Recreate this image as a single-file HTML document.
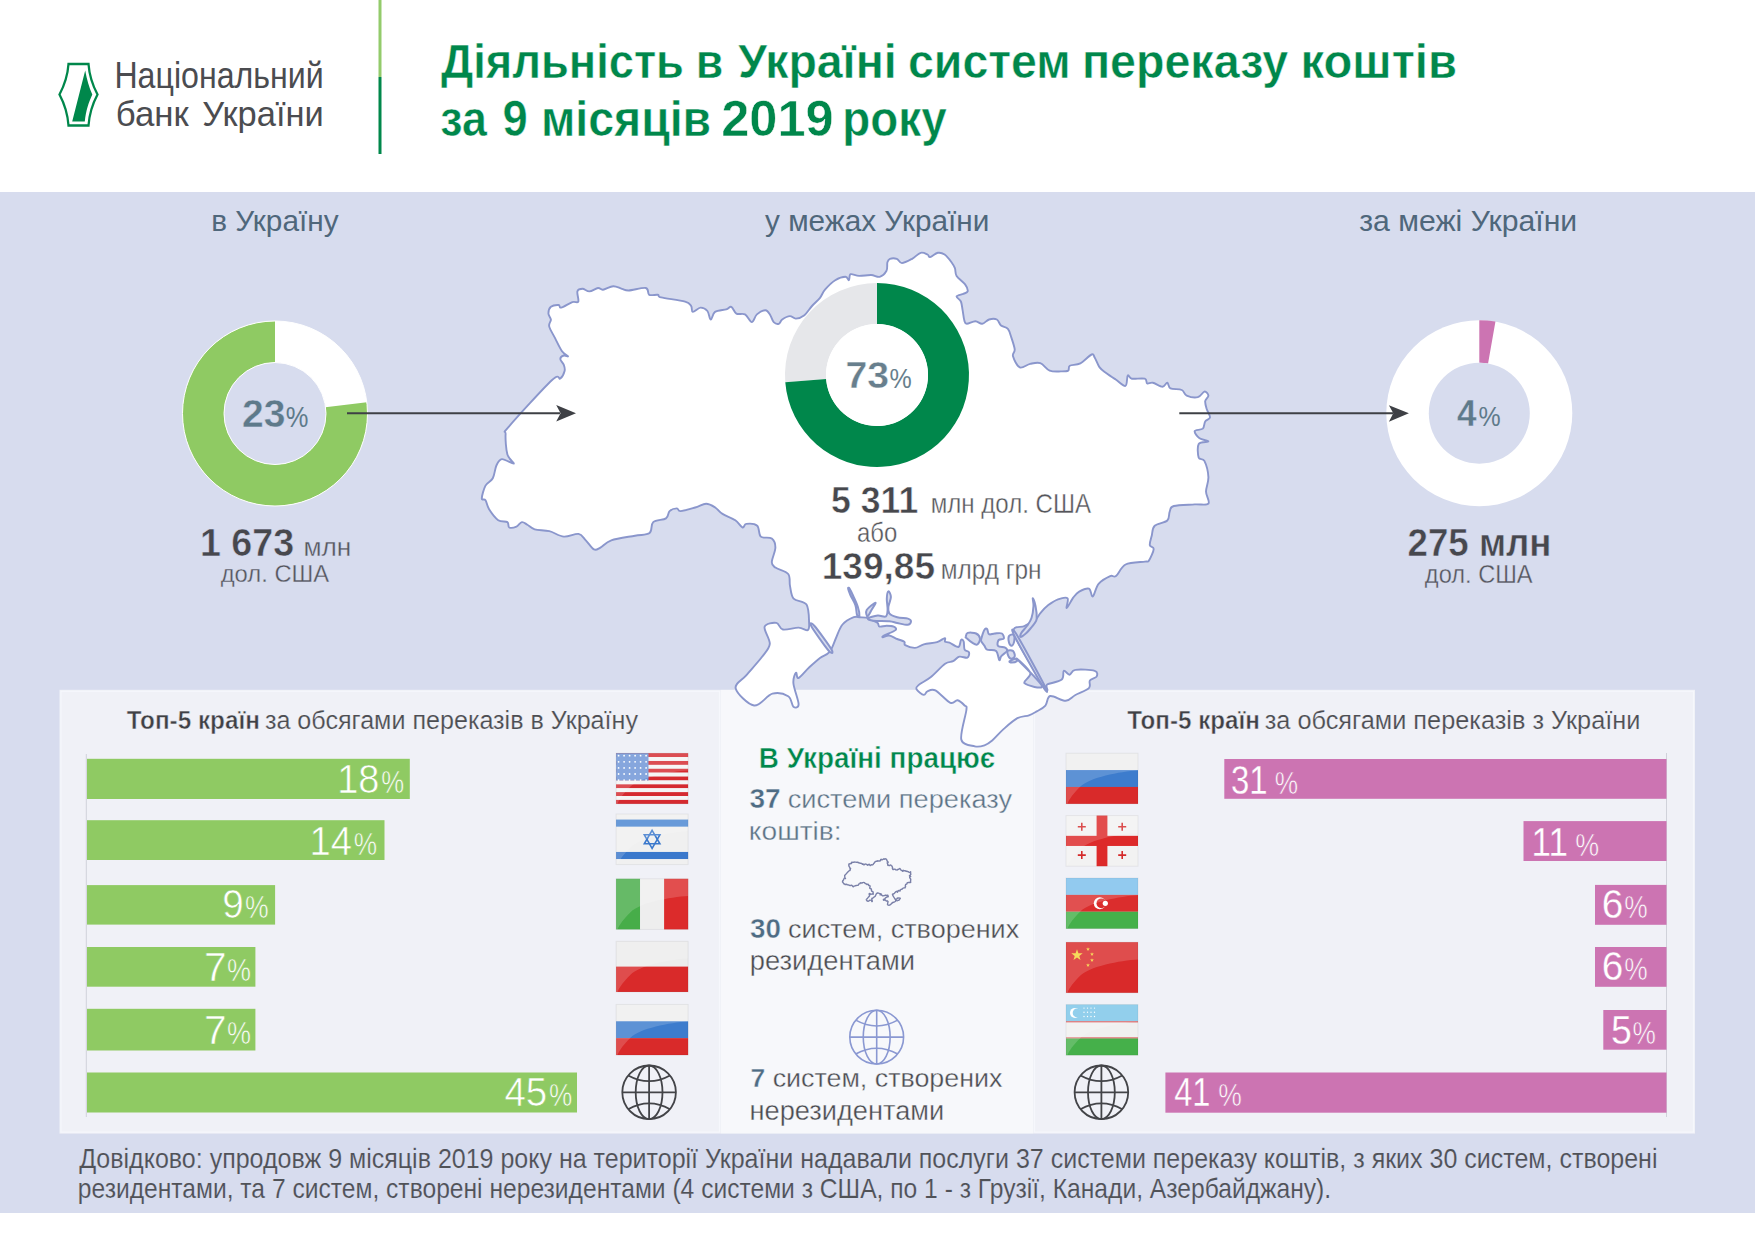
<!DOCTYPE html>
<html><head><meta charset="utf-8"><style>
html,body{margin:0;padding:0;background:#fff;}
svg{display:block;font-family:"Liberation Sans",sans-serif;}
</style></head><body>
<svg width="1755" height="1241" viewBox="0 0 1755 1241">
<rect x="0" y="0" width="1755" height="1241" fill="#ffffff"/>
<path d="M68.5,64 L88.5,64 C89.5,78 93,86 97.5,94.5 C93,103 89.5,111 88.5,125.5 L68.5,125.5 C67.5,111 64,103 59.5,94.5 C64,86 67.5,78 68.5,64 Z" fill="none" stroke="#00874b" stroke-width="2.3"/>
<path d="M85.2,70.5 C87,80 89,87 92.3,94.5 C88.5,103 86,110 84.8,121.5 L72.2,121.5 Z" fill="#00874b"/>
<rect x="378.5" y="0" width="3" height="77" fill="#93cb6b"/>
<rect x="378.5" y="77" width="3" height="77" fill="#00874b"/>
<text x="114.38" y="88.30" font-size="36.77" font-weight="normal" fill="#4b4c50" textLength="209.36" lengthAdjust="spacingAndGlyphs">Національний</text>
<text x="115.84" y="125.90" font-size="35.61" font-weight="normal" fill="#4b4c50" textLength="72.96" lengthAdjust="spacingAndGlyphs">банк</text>
<text x="202.23" y="125.90" font-size="35.61" font-weight="normal" fill="#4b4c50" textLength="121.47" lengthAdjust="spacingAndGlyphs">України</text>
<text x="441.04" y="78.30" font-size="48.69" font-weight="bold" fill="#00874b" textLength="242.88" lengthAdjust="spacingAndGlyphs" stroke="#ffffff" stroke-width="0.5">Діяльність</text>
<text x="695.82" y="78.30" font-size="48.69" font-weight="bold" fill="#00874b" textLength="27.49" lengthAdjust="spacingAndGlyphs" stroke="#ffffff" stroke-width="0.5">в</text>
<text x="738.00" y="78.30" font-size="48.69" font-weight="bold" fill="#00874b" textLength="158.66" lengthAdjust="spacingAndGlyphs" stroke="#ffffff" stroke-width="0.5">Україні</text>
<text x="907.93" y="78.30" font-size="48.69" font-weight="bold" fill="#00874b" textLength="162.77" lengthAdjust="spacingAndGlyphs" stroke="#ffffff" stroke-width="0.5">систем</text>
<text x="1081.89" y="78.30" font-size="48.69" font-weight="bold" fill="#00874b" textLength="206.22" lengthAdjust="spacingAndGlyphs" stroke="#ffffff" stroke-width="0.5">переказу</text>
<text x="1300.45" y="78.30" font-size="48.69" font-weight="bold" fill="#00874b" textLength="156.54" lengthAdjust="spacingAndGlyphs" stroke="#ffffff" stroke-width="0.5">коштів</text>
<text x="440.37" y="136.00" font-size="49.42" font-weight="bold" fill="#00874b" textLength="46.56" lengthAdjust="spacingAndGlyphs" stroke="#ffffff" stroke-width="0.5">за</text>
<text x="502.40" y="136.00" font-size="49.42" font-weight="bold" fill="#00874b" textLength="25.24" lengthAdjust="spacingAndGlyphs" stroke="#ffffff" stroke-width="0.5">9</text>
<text x="540.91" y="136.00" font-size="49.42" font-weight="bold" fill="#00874b" textLength="170.27" lengthAdjust="spacingAndGlyphs" stroke="#ffffff" stroke-width="0.5">місяців</text>
<text x="721.21" y="136.00" font-size="49.42" font-weight="bold" fill="#00874b" textLength="112.40" lengthAdjust="spacingAndGlyphs" stroke="#ffffff" stroke-width="0.5">2019</text>
<text x="842.29" y="136.00" font-size="49.42" font-weight="bold" fill="#00874b" textLength="104.47" lengthAdjust="spacingAndGlyphs" stroke="#ffffff" stroke-width="0.5">року</text>
<rect x="0" y="192" width="1755" height="1021" fill="#d7dcee"/>
<text x="211.20" y="231.30" font-size="29.80" font-weight="normal" fill="#4f677b" textLength="127.36" lengthAdjust="spacingAndGlyphs">в Україну</text>
<text x="765.00" y="231.30" font-size="29.80" font-weight="normal" fill="#4f677b" textLength="224.33" lengthAdjust="spacingAndGlyphs">у межах України</text>
<text x="1359.24" y="231.30" font-size="29.80" font-weight="normal" fill="#4f677b" textLength="217.92" lengthAdjust="spacingAndGlyphs">за межі України</text>
<rect x="59.5" y="689.8" width="661.5" height="443.8" fill="#f0f1f7"/>
<rect x="61" y="691.3" width="658.5" height="440.8" fill="none" stroke="#f6f7fc" stroke-width="1.2"/>
<rect x="721" y="689.8" width="312" height="443.8" fill="#f7f8fb"/>
<rect x="1033" y="689.8" width="662" height="443.8" fill="#f0f1f7"/>
<rect x="1034.5" y="691.3" width="659" height="440.8" fill="none" stroke="#f6f7fc" stroke-width="1.2"/>
<path d="M548.4,313.6 C548.4,311.5 549.2,308.2 550.9,306.8 C552.6,305.4 556.9,304.9 558.6,305.0 C560.3,305.1 558.9,308.1 561.2,307.6 C563.5,307.1 569.4,303.1 572.3,302.1 C575.1,301.1 577.4,303.4 578.3,301.6 C579.1,299.8 576.7,293.5 577.4,291.4 C578.1,289.3 580.6,288.8 582.6,288.8 C584.6,288.8 586.8,291.5 589.4,291.4 C592.0,291.3 595.7,288.3 598.0,288.0 C600.3,287.7 600.5,290.0 603.0,289.7 C605.5,289.4 610.1,286.3 613.3,286.2 C616.4,286.1 619.3,288.1 621.9,288.8 C624.5,289.5 624.7,290.6 628.7,290.5 C632.7,290.4 642.4,287.3 645.8,288.0 C649.2,288.7 647.2,293.7 649.2,294.8 C651.2,295.9 655.8,294.4 657.8,294.8 C659.8,295.2 656.7,296.3 661.2,297.4 C665.8,298.5 680.1,300.2 685.1,301.6 C690.1,303.0 689.8,304.2 691.1,305.9 C692.4,307.6 691.2,311.6 692.8,311.9 C694.4,312.2 698.1,307.8 700.5,307.6 C702.9,307.5 705.7,309.0 707.4,311.0 C709.1,313.0 709.5,319.5 710.8,319.6 C712.1,319.8 712.4,313.6 715.0,311.9 C717.6,310.2 723.5,310.1 726.2,309.3 C728.9,308.5 729.6,306.1 731.3,306.8 C733.0,307.5 734.1,312.3 736.4,313.6 C738.7,314.9 742.4,313.0 745.0,314.4 C747.6,315.8 749.8,322.1 751.8,322.1 C753.8,322.1 754.6,316.4 756.9,314.4 C759.2,312.4 763.3,310.1 765.5,310.2 C767.7,310.3 768.9,313.2 770.3,315.2 C771.7,317.2 772.3,320.7 773.7,322.1 C775.1,323.5 777.4,324.2 778.8,323.8 C780.2,323.4 780.4,320.8 782.2,319.5 C784.1,318.2 787.6,316.2 789.9,316.1 C792.2,316.0 793.5,318.8 795.9,318.6 C798.3,318.5 801.7,317.3 804.4,315.2 C807.1,313.1 809.4,308.9 812.0,306.0 C814.6,303.1 817.6,300.8 819.8,298.1 C822.0,295.4 822.4,292.6 825.0,289.6 C827.6,286.6 831.8,282.3 835.2,280.2 C838.6,278.1 843.2,276.8 845.5,276.8 C847.8,276.8 848.0,280.6 848.9,280.2 C849.8,279.8 848.9,274.9 850.6,274.2 C852.3,273.5 855.7,275.8 859.1,275.9 C862.5,276.0 867.7,274.9 871.1,275.0 C874.5,275.1 877.1,277.5 879.7,276.8 C882.3,276.1 885.2,273.2 886.5,270.8 C887.8,268.4 886.8,264.2 887.4,262.2 C888.0,260.2 888.3,259.4 889.9,258.8 C891.5,258.2 894.8,258.1 896.8,258.8 C898.8,259.5 899.3,263.1 901.9,263.1 C904.5,263.1 909.0,260.5 912.1,258.8 C915.2,257.1 918.1,253.5 920.7,252.8 C923.3,252.1 925.9,253.8 927.5,254.5 C929.1,255.2 928.4,257.4 930.1,257.1 C931.8,256.8 935.4,253.2 937.8,252.8 C940.2,252.4 942.3,252.9 944.6,254.5 C946.9,256.1 949.8,259.9 951.5,262.2 C953.2,264.5 954.0,265.9 954.9,268.2 C955.8,270.5 954.9,273.2 956.6,275.9 C958.3,278.6 963.2,281.8 965.1,284.4 C967.0,287.0 968.0,289.7 967.7,291.3 C967.4,292.9 965.2,293.0 963.4,293.8 C961.5,294.6 957.0,295.1 956.6,296.4 C956.2,297.7 959.9,299.2 960.9,301.5 C961.9,303.8 962.0,307.0 962.6,310.1 C963.2,313.2 963.6,318.0 964.3,320.3 C965.0,322.6 964.9,323.7 966.8,323.8 C968.6,323.9 972.8,321.2 975.4,321.2 C978.0,321.2 979.9,324.1 982.2,323.8 C984.5,323.5 986.7,320.2 989.1,319.5 C991.5,318.8 994.8,318.5 996.8,319.5 C998.8,320.5 999.1,323.9 1001.0,325.5 C1002.9,327.1 1006.2,326.9 1007.9,328.9 C1009.6,330.9 1010.2,334.0 1011.3,337.4 C1012.4,340.8 1014.4,346.3 1014.7,349.4 C1015.0,352.5 1012.1,353.2 1013.0,356.2 C1013.9,359.2 1016.9,366.1 1019.8,367.4 C1022.6,368.7 1026.7,364.6 1030.1,363.9 C1033.5,363.2 1037.0,362.0 1040.3,363.1 C1043.6,364.2 1046.2,369.2 1049.7,370.6 C1053.2,372.0 1057.9,371.4 1061.0,371.4 C1064.1,371.4 1066.7,371.5 1068.2,370.6 C1069.7,369.7 1067.8,367.0 1069.8,365.8 C1071.8,364.6 1076.7,365.3 1080.3,363.4 C1083.9,361.5 1089.2,355.4 1091.6,354.5 C1094.0,353.6 1093.5,355.6 1094.8,357.7 C1096.1,359.8 1097.7,364.8 1099.6,367.4 C1101.5,369.9 1103.4,371.0 1106.1,373.0 C1108.8,375.0 1112.5,377.4 1115.7,379.5 C1118.9,381.6 1123.4,386.6 1125.4,385.9 C1127.4,385.2 1126.7,376.7 1127.8,375.5 C1128.9,374.3 1129.1,378.2 1131.9,378.7 C1134.7,379.2 1142.2,377.9 1144.8,378.7 C1147.3,379.5 1145.9,382.8 1147.2,383.5 C1148.5,384.2 1150.2,382.2 1152.8,382.7 C1155.3,383.2 1160.1,386.7 1162.5,386.7 C1164.9,386.7 1166.0,382.4 1167.3,382.7 C1168.6,383.0 1168.1,387.1 1170.5,388.3 C1172.9,389.5 1179.1,388.8 1181.8,390.0 C1184.5,391.2 1184.0,394.4 1186.7,395.6 C1189.4,396.8 1195.0,397.9 1197.9,397.2 C1200.9,396.5 1202.7,391.9 1204.4,391.6 C1206.2,391.3 1208.3,394.0 1208.4,395.6 C1208.5,397.2 1205.5,398.9 1205.2,401.2 C1204.9,403.5 1206.0,406.6 1206.8,409.3 C1207.6,412.0 1210.3,415.4 1210.0,417.4 C1209.7,419.4 1206.4,419.5 1205.2,421.4 C1204.0,423.3 1204.5,427.0 1202.8,428.6 C1201.0,430.2 1195.2,429.5 1194.7,431.1 C1194.2,432.7 1197.2,436.6 1199.5,438.3 C1201.8,440.0 1208.5,440.6 1208.4,441.5 C1208.3,442.4 1200.3,441.3 1198.7,444.0 C1197.1,446.7 1197.8,454.8 1198.7,457.6 C1199.7,460.4 1202.8,457.7 1204.4,460.9 C1206.0,464.1 1208.1,471.9 1208.4,477.0 C1208.7,482.1 1206.0,487.1 1206.0,491.5 C1206.0,495.9 1210.3,501.5 1208.4,503.6 C1206.5,505.8 1200.5,504.0 1194.7,504.4 C1188.9,504.8 1178.0,504.8 1173.8,506.0 C1169.6,507.2 1170.8,509.2 1169.7,511.6 C1168.6,514.0 1169.8,518.1 1167.3,520.5 C1164.8,522.9 1157.3,523.3 1154.7,525.8 C1152.1,528.3 1152.6,532.3 1151.8,535.5 C1151.0,538.7 1149.5,542.9 1149.8,545.1 C1150.1,547.4 1153.8,546.4 1153.7,549.0 C1153.6,551.6 1150.4,558.5 1148.9,560.6 C1147.5,562.7 1148.9,561.0 1145.0,561.6 C1141.1,562.2 1130.4,562.1 1125.6,564.5 C1120.8,566.9 1118.6,574.2 1116.0,576.1 C1113.4,578.0 1113.1,574.8 1110.2,576.1 C1107.3,577.4 1101.5,580.4 1098.6,583.8 C1095.7,587.2 1094.4,595.6 1092.8,596.4 C1091.2,597.2 1091.2,589.5 1088.9,588.7 C1086.6,587.9 1081.8,590.2 1079.2,591.6 C1076.6,593.0 1075.5,594.7 1073.4,597.4 C1071.3,600.1 1067.7,607.9 1066.7,608.0 C1065.7,608.1 1069.0,599.8 1067.6,598.3 C1066.1,596.8 1061.2,598.2 1058.0,599.3 C1054.8,600.4 1051.2,602.9 1048.3,605.1 C1045.4,607.4 1042.8,610.2 1040.6,612.8 C1038.3,615.4 1037.5,618.4 1034.8,620.6 C1032.1,622.8 1027.9,623.7 1024.5,626.0 C1021.1,628.3 1010.8,624.1 1014.2,634.2 C1017.6,644.3 1039.6,678.4 1045.1,686.8 C1050.6,695.2 1044.5,685.6 1047.3,684.4 C1050.1,683.2 1059.0,681.8 1061.8,679.5 C1064.5,677.2 1062.5,671.6 1063.8,670.8 C1065.1,670.0 1067.7,674.9 1069.6,674.7 C1071.5,674.6 1071.2,670.5 1075.4,669.9 C1079.6,669.2 1091.2,669.7 1094.7,670.8 C1098.2,671.9 1097.4,675.0 1096.6,676.6 C1095.8,678.2 1091.2,678.6 1089.9,680.5 C1088.6,682.4 1091.3,685.8 1088.9,688.2 C1086.5,690.6 1079.3,692.9 1075.4,695.0 C1071.5,697.1 1069.9,700.6 1065.7,700.8 C1061.5,701.0 1053.6,695.2 1050.2,696.0 C1046.8,696.8 1047.7,703.0 1045.4,705.6 C1043.2,708.2 1039.4,709.8 1036.7,711.4 C1034.0,713.0 1032.2,714.2 1029.0,715.3 C1025.8,716.4 1021.6,715.9 1017.4,718.2 C1013.2,720.5 1008.0,725.2 1003.8,728.9 C999.6,732.6 995.4,737.8 992.2,740.5 C989.0,743.2 987.4,744.3 984.5,745.3 C981.6,746.3 978.7,747.3 974.8,746.3 C970.9,745.3 962.7,745.5 961.3,739.5 C959.9,733.5 965.8,715.7 966.4,710.0 C967.0,704.3 966.1,707.1 964.6,705.5 C963.1,703.9 959.9,700.7 957.5,700.2 C955.1,699.8 954.1,704.4 950.4,702.8 C946.7,701.2 939.2,692.3 935.4,690.4 C931.6,688.5 929.3,690.5 927.4,691.3 C925.5,692.0 925.6,695.2 923.8,694.9 C922.0,694.6 917.6,691.1 916.7,689.5 C915.8,687.9 916.1,687.2 918.5,685.1 C920.9,683.0 926.5,680.7 930.9,677.1 C935.3,673.5 941.4,666.4 945.1,663.8 C948.8,661.1 950.7,662.4 953.1,661.2 C955.5,660.0 956.9,657.3 959.3,656.7 C961.7,656.1 965.7,658.3 967.3,657.6 C968.9,656.9 969.5,653.6 969.0,652.3 C968.5,651.0 965.5,651.4 964.6,649.6 C963.7,647.8 964.3,643.3 963.7,641.7 C963.1,640.1 962.0,639.0 961.1,639.9 C960.2,640.8 960.3,646.5 958.4,647.0 C956.5,647.5 951.7,643.5 949.5,642.6 C947.3,641.7 945.9,642.5 945.1,641.7 C944.3,641.0 946.0,638.0 944.7,638.1 C943.4,638.2 940.6,641.1 937.1,642.1 C933.6,643.1 927.5,643.3 923.8,644.3 C920.1,645.3 918.1,647.8 915.0,647.9 C911.9,648.0 907.0,646.2 905.2,645.2 C903.4,644.2 905.6,642.7 904.3,641.7 C903.0,640.7 899.7,640.0 897.2,639.0 C894.7,638.0 891.7,635.8 889.3,635.5 C886.9,635.2 883.9,637.2 883.0,637.2 C882.1,637.2 881.8,636.7 883.9,635.5 C886.0,634.3 893.9,631.6 895.5,630.1 C897.1,628.6 895.2,627.3 893.7,626.6 C892.2,625.9 889.0,625.7 886.6,625.7 C884.2,625.7 881.0,627.1 879.5,626.6 C878.0,626.1 878.9,624.0 877.7,623.0 C876.5,622.0 874.3,621.3 872.4,620.4 C870.5,619.5 868.3,618.2 866.2,617.7 C864.1,617.2 862.1,617.4 860.0,617.3 C857.9,617.2 856.7,616.0 853.8,617.2 C850.9,618.4 845.5,621.0 842.5,624.5 C839.5,628.0 838.1,633.4 836.0,638.0 C833.9,642.6 832.3,648.6 829.6,651.9 C826.9,655.2 823.4,655.4 820.0,658.0 C816.6,660.6 812.7,664.2 809.1,667.5 C805.5,670.8 800.8,677.1 798.6,678.0 C796.4,678.9 796.9,671.8 796.0,672.7 C795.1,673.6 793.0,678.0 793.4,683.2 C793.8,688.5 798.6,700.3 798.6,704.2 C798.6,708.1 795.1,708.1 793.4,706.8 C791.7,705.5 791.7,698.5 788.2,696.3 C784.7,694.1 778.1,692.2 772.4,693.7 C766.7,695.2 760.2,706.4 754.1,705.5 C748.0,704.6 737.0,693.4 735.7,688.4 C734.4,683.4 741.8,680.5 746.2,675.3 C750.6,670.1 758.0,662.2 761.9,657.0 C765.8,651.8 769.3,648.9 769.8,643.9 C770.2,638.9 763.5,630.3 764.6,626.8 C765.7,623.3 773.4,622.4 776.4,622.9 C779.4,623.4 779.2,628.7 782.9,629.5 C786.6,630.3 794.5,627.5 798.6,627.6 C802.8,627.7 806.0,631.0 807.8,630.2 C809.5,629.4 809.3,627.2 809.1,622.9 C808.9,618.6 809.1,608.6 806.5,604.6 C803.9,600.6 796.4,601.7 793.6,598.6 C790.9,595.5 790.9,590.0 790.0,585.9 C789.1,581.8 790.6,577.0 788.2,574.0 C785.8,571.0 778.1,569.6 775.4,567.6 C772.7,565.6 771.8,565.5 771.8,562.2 C771.8,558.9 775.4,551.6 775.4,547.6 C775.4,543.6 774.2,540.3 771.8,538.5 C769.4,536.7 763.2,538.7 760.8,536.6 C758.4,534.5 759.6,527.8 757.2,525.7 C754.8,523.6 748.6,523.6 746.2,523.9 C743.8,524.2 744.4,528.1 742.6,527.5 C740.8,526.9 738.6,522.5 735.3,520.2 C731.9,517.9 725.9,516.0 722.5,513.9 C719.1,511.8 717.9,509.2 715.2,507.5 C712.5,505.8 709.4,503.8 706.1,503.8 C702.8,503.8 699.5,506.3 695.2,507.5 C691.0,508.7 683.7,511.0 680.6,511.1 C677.5,511.2 678.7,508.4 676.9,508.4 C675.1,508.4 671.4,509.4 669.6,511.1 C667.8,512.8 668.7,516.6 666.0,518.4 C663.3,520.2 655.9,519.7 653.2,522.1 C650.5,524.5 652.6,530.7 649.6,533.0 C646.6,535.3 641.4,534.5 635.0,535.7 C628.6,536.9 617.1,538.3 611.3,540.3 C605.5,542.3 603.3,546.1 600.4,547.6 C597.5,549.1 596.4,550.6 594.0,549.4 C591.6,548.2 588.4,542.9 585.8,540.3 C583.2,537.7 582.1,534.5 578.5,533.9 C574.9,533.3 568.8,537.0 563.9,536.6 C559.0,536.2 554.2,532.4 549.3,531.2 C544.4,530.0 538.4,530.5 534.7,529.4 C531.1,528.3 529.5,526.0 527.4,524.8 C525.3,523.6 523.7,521.8 521.9,522.1 C520.1,522.4 518.6,525.7 516.5,526.6 C514.4,527.5 510.7,528.2 509.2,527.5 C507.7,526.8 509.2,523.3 507.4,522.1 C505.6,520.9 501.2,522.3 498.2,520.2 C495.1,518.1 491.2,512.6 489.1,509.3 C487.0,506.0 486.7,502.0 485.5,500.2 C484.3,498.4 481.8,500.8 481.8,498.4 C481.8,496.0 483.7,489.0 485.5,485.6 C487.3,482.2 491.0,481.7 492.8,478.3 C494.6,474.9 494.9,468.7 496.4,465.5 C497.9,462.3 499.0,459.4 501.9,459.1 C504.8,458.8 512.8,464.4 513.7,463.7 C514.6,462.9 508.8,459.5 507.4,454.6 C506.0,449.7 505.3,438.8 505.6,434.1 C505.9,429.4 501.4,435.4 509.1,426.4 C516.8,417.4 543.3,388.3 551.8,380.3 C560.3,372.3 558.2,380.1 560.3,378.5 C562.4,376.9 564.0,373.2 564.6,370.9 C565.2,368.6 564.5,366.9 563.8,364.9 C563.1,362.9 560.3,360.5 560.3,358.9 C560.3,357.3 562.5,355.9 563.8,355.5 C565.1,355.1 568.3,357.0 568.0,356.3 C567.7,355.6 564.1,354.2 562.0,351.2 C559.9,348.2 557.3,342.5 555.2,338.4 C553.1,334.3 549.9,329.5 549.2,326.4 C548.5,323.3 551.0,321.7 550.9,319.6 C550.8,317.5 548.4,315.7 548.4,313.6 Z" fill="#ffffff" stroke="#8a96cc" stroke-width="1.9" stroke-linejoin="round"/>
<path d="M811.5,626.5 C809.2,622.4 811.2,622.2 814.5,626.0 C817.8,629.8 829.2,645.4 831.5,649.5 C833.8,653.6 831.8,654.3 828.5,650.5 C825.2,646.7 813.8,630.6 811.5,626.5 Z" fill="#d7dcee" stroke="#8a96cc" stroke-width="2" stroke-linejoin="round"/>
<path d="M848.1,588.2 C848.2,589.3 849.4,592.7 850.6,595.5 C851.8,598.3 854.3,601.9 855.4,605.1 C856.5,608.3 856.3,613.0 857.0,614.8 C857.7,616.5 859.3,617.0 859.4,615.6 C859.5,614.2 858.9,610.1 857.8,606.7 C856.7,603.4 854.3,598.5 853.0,595.5 C851.7,592.5 850.6,590.2 849.8,589.0 C849.0,587.8 848.0,587.1 848.1,588.2 Z" fill="#d7dcee" stroke="#8a96cc" stroke-width="2" stroke-linejoin="round"/>
<path d="M875.5,602.7 C874.7,602.7 868.0,607.7 866.7,610.0 C865.4,612.3 866.7,616.4 867.5,616.4 C868.3,616.4 870.2,612.3 871.5,610.0 C872.8,607.7 876.3,602.7 875.5,602.7 Z" fill="#d7dcee" stroke="#8a96cc" stroke-width="2" stroke-linejoin="round"/>
<path d="M888.4,591.4 C889.1,591.1 890.9,594.5 890.9,597.1 C890.9,599.7 888.7,604.0 888.4,606.7 C888.1,609.4 887.8,611.5 889.3,613.3 C890.8,615.1 894.1,616.4 897.2,617.3 C900.3,618.2 905.6,617.9 907.9,618.6 C910.2,619.3 911.0,620.3 911.0,621.3 C911.0,622.3 910.2,624.5 907.9,624.8 C905.6,625.1 900.3,623.6 897.2,623.0 C894.1,622.4 893.3,621.7 889.3,621.3 C885.3,620.9 876.8,621.3 873.3,620.8 C869.8,620.3 867.3,619.4 868.0,618.5 C868.7,617.6 874.8,615.9 877.7,615.6 C880.7,615.3 884.1,617.4 885.7,616.5 C887.4,615.6 887.4,613.0 887.6,610.0 C887.8,607.0 886.7,601.8 886.8,598.7 C886.9,595.6 887.7,591.7 888.4,591.4 Z" fill="#d7dcee" stroke="#8a96cc" stroke-width="2" stroke-linejoin="round"/>
<path d="M1032.8,598.3 C1033.1,598.3 1034.8,602.6 1035.5,606.0 C1036.2,609.4 1036.9,615.6 1036.7,618.6 C1036.5,621.6 1035.1,622.4 1034.1,624.0 C1033.1,625.6 1032.2,626.5 1030.9,628.0 C1029.6,629.5 1028.1,631.5 1026.4,633.0 C1024.7,634.5 1021.5,637.0 1020.6,637.0 C1019.8,637.0 1020.2,634.8 1021.3,632.9 C1022.4,631.0 1025.4,628.3 1027.1,625.8 C1028.8,623.3 1030.4,621.3 1031.5,618.0 C1032.6,614.7 1033.3,609.3 1033.5,606.0 C1033.7,602.7 1032.5,598.3 1032.8,598.3 Z" fill="#d7dcee" stroke="#8a96cc" stroke-width="2" stroke-linejoin="round"/>
<path d="M965.8,636.8 C966.0,635.9 966.0,633.4 967.7,632.9 C969.4,632.4 974.1,632.5 976.1,633.5 C978.1,634.5 979.8,636.9 980.0,638.7 C980.2,640.5 978.6,643.8 977.4,644.5 C976.2,645.2 974.7,644.3 972.9,643.2 C971.1,642.1 967.6,639.1 966.4,638.0 C965.2,636.9 965.6,637.6 965.8,636.8 Z" fill="#d7dcee" stroke="#8a96cc" stroke-width="2" stroke-linejoin="round"/>
<path d="M981.3,638.7 C981.8,636.8 983.5,631.3 984.5,629.7 C985.5,628.1 986.4,628.2 987.1,629.0 C987.9,629.8 987.7,633.5 989.0,634.2 C990.3,635.0 992.6,633.6 994.8,633.5 C996.9,633.4 1000.4,632.6 1001.9,633.5 C1003.4,634.4 1004.3,637.6 1003.8,638.7 C1003.3,639.8 999.7,638.8 998.7,640.0 C997.7,641.2 996.9,644.5 998.0,645.8 C999.1,647.1 1003.6,646.9 1005.1,647.7 C1006.6,648.6 1007.7,649.5 1007.1,650.9 C1006.5,652.3 1002.6,654.6 1001.3,656.1 C1000.0,657.6 1000.2,660.9 999.3,660.0 C998.4,659.1 998.1,652.6 996.1,650.9 C994.1,649.2 989.0,650.6 987.1,649.7 C985.2,648.9 985.5,647.2 984.5,645.8 C983.5,644.4 981.8,642.5 981.3,641.3 C980.8,640.1 980.8,640.6 981.3,638.7 Z" fill="#d7dcee" stroke="#8a96cc" stroke-width="2" stroke-linejoin="round"/>
<path d="M1009.0,636.1 C1009.8,634.8 1012.6,633.9 1013.5,634.8 C1014.4,635.7 1014.5,639.5 1014.2,641.3 C1013.9,643.1 1012.5,645.6 1011.6,645.8 C1010.7,646.0 1009.4,644.2 1009.0,642.6 C1008.6,641.0 1008.2,637.4 1009.0,636.1 Z" fill="#d7dcee" stroke="#8a96cc" stroke-width="2" stroke-linejoin="round"/>
<path d="M1007.7,650.9 C1008.5,650.0 1011.7,650.0 1012.9,650.9 C1014.1,651.8 1015.0,654.8 1014.8,656.1 C1014.6,657.4 1012.7,658.7 1011.6,658.7 C1010.5,658.7 1009.0,657.4 1008.4,656.1 C1007.8,654.8 1007.0,651.8 1007.7,650.9 Z" fill="#d7dcee" stroke="#8a96cc" stroke-width="2" stroke-linejoin="round"/>
<path d="M1009.6,661.3 C1010.2,660.6 1014.2,658.7 1015.4,658.7 C1016.6,658.7 1017.3,660.6 1016.7,661.3 C1016.1,661.9 1012.8,662.6 1011.6,662.6 C1010.4,662.6 1009.0,661.9 1009.6,661.3 Z" fill="#d7dcee" stroke="#8a96cc" stroke-width="2" stroke-linejoin="round"/>
<path d="M1014.5,636.0 C1010.3,627.6 1012.2,627.2 1017.2,635.5 C1022.2,643.8 1040.3,677.1 1044.5,685.5 C1048.7,693.9 1047.5,694.2 1042.5,686.0 C1037.5,677.8 1018.7,644.4 1014.5,636.0 Z" fill="#d7dcee" stroke="#8a96cc" stroke-width="2" stroke-linejoin="round"/>
<path d="M1016.7,658.7 C1014.8,656.5 1029.0,668.8 1030.3,672.9 C1031.6,677.0 1022.5,681.0 1024.5,683.2 C1026.5,685.4 1043.3,690.1 1042.0,686.0 C1040.7,681.9 1018.7,660.9 1016.7,658.7 Z" fill="#d7dcee" stroke="#8a96cc" stroke-width="2" stroke-linejoin="round"/>
<circle cx="275" cy="413.5" r="92.5" fill="#ffffff"/>
<path d="M366.81,402.23 A92.5,92.5 0 1 1 275.00,321.00 L275.00,362.70 A50.8,50.8 0 1 0 325.42,407.31 Z" fill="#8fca63"/>
<circle cx="275" cy="413.5" r="51" fill="#d7dcee" stroke="#ffffff" stroke-width="1"/>
<circle cx="275" cy="413.5" r="92.5" fill="none" stroke="#ffffff" stroke-width="1"/>
<path d="M785.28,382.22 A92,92 0 0 1 877.00,283.00 L877.00,324.00 A51,51 0 0 0 826.16,379.00 Z" fill="#e6e7ea"/>
<path d="M877.00,283.00 A92,92 0 1 1 785.28,382.22 L826.16,379.00 A51,51 0 1 0 877.00,324.00 Z" fill="#00874b"/>
<circle cx="877" cy="375" r="51" fill="#ffffff"/>
<circle cx="1479.3" cy="413.2" r="93" fill="#ffffff"/>
<path d="M1479.30,320.20 A93,93 0 0 1 1495.45,321.61 L1488.07,363.47 A50.5,50.5 0 0 0 1479.30,362.70 Z" fill="#cc74b2"/>
<circle cx="1479.3" cy="413.2" r="50.5" fill="#d7dcee"/>
<line x1="347" y1="413.2" x2="560" y2="413.2" stroke="#3e4045" stroke-width="2"/>
<path d="M556.2,405 L576,413.2 L556.2,421.4 L560.6,413.2 Z" fill="#3e4045"/>
<line x1="1179.3" y1="413.3" x2="1393" y2="413.3" stroke="#3e4045" stroke-width="2"/>
<path d="M1388.9,405.2 L1408.9,413.3 L1388.9,421.8 L1393.3,413.3 Z" fill="#3e4045"/>
<text x="241.94" y="426.50" font-size="38.66" font-weight="bold" fill="#5e7a8a" textLength="43.42" lengthAdjust="spacingAndGlyphs" stroke="#d7dcee" stroke-width="0.4">23</text>
<text x="285.71" y="426.50" font-size="28.57" font-weight="normal" fill="#5e7a8a" textLength="22.67" lengthAdjust="spacingAndGlyphs">%</text>
<text x="845.52" y="387.90" font-size="37.35" font-weight="bold" fill="#687f8d" textLength="43.62" lengthAdjust="spacingAndGlyphs" stroke="#ffffff" stroke-width="0.4">73</text>
<text x="889.60" y="387.90" font-size="27.86" font-weight="normal" fill="#687f8d" textLength="22.24" lengthAdjust="spacingAndGlyphs">%</text>
<text x="1457.02" y="426.20" font-size="36.63" font-weight="bold" fill="#5e7a8a" textLength="19.56" lengthAdjust="spacingAndGlyphs" stroke="#d7dcee" stroke-width="0.4">4</text>
<text x="1478.42" y="426.20" font-size="28.29" font-weight="normal" fill="#5e7a8a" textLength="22.15" lengthAdjust="spacingAndGlyphs">%</text>
<text x="199.97" y="556.40" font-size="38.66" font-weight="bold" fill="#47484d" textLength="94.11" lengthAdjust="spacingAndGlyphs" stroke="#d7dcee" stroke-width="0.5">1 673</text>
<text x="303.52" y="556.40" font-size="25.76" font-weight="normal" fill="#55565b" textLength="47.81" lengthAdjust="spacingAndGlyphs" stroke="#d7dcee" stroke-width="0.35">млн</text>
<text x="220.76" y="582.20" font-size="24.56" font-weight="normal" fill="#55565b" textLength="108.47" lengthAdjust="spacingAndGlyphs" stroke="#d7dcee" stroke-width="0.35">дол. США</text>
<text x="1407.55" y="556.00" font-size="39.68" font-weight="bold" fill="#47484d" textLength="143.91" lengthAdjust="spacingAndGlyphs" stroke="#d7dcee" stroke-width="0.5">275 млн</text>
<text x="1424.86" y="582.90" font-size="25.00" font-weight="normal" fill="#55565b" textLength="107.69" lengthAdjust="spacingAndGlyphs" stroke="#d7dcee" stroke-width="0.35">дол. США</text>
<text x="831.12" y="513.30" font-size="37.65" font-weight="bold" fill="#47484d" textLength="87.12" lengthAdjust="spacingAndGlyphs" stroke="#ffffff" stroke-width="0.5">5 311</text>
<text x="930.76" y="513.30" font-size="27.33" font-weight="normal" fill="#55565b" textLength="160.21" lengthAdjust="spacingAndGlyphs" stroke="#ffffff" stroke-width="0.35">млн дол. США</text>
<text x="857.02" y="541.90" font-size="27.27" font-weight="normal" fill="#55565b" textLength="40.31" lengthAdjust="spacingAndGlyphs" stroke="#ffffff" stroke-width="0.35">або</text>
<text x="821.75" y="579.40" font-size="36.92" font-weight="bold" fill="#47484d" textLength="113.33" lengthAdjust="spacingAndGlyphs" stroke="#ffffff" stroke-width="0.5">139,85</text>
<text x="940.63" y="579.40" font-size="27.27" font-weight="normal" fill="#55565b" textLength="100.95" lengthAdjust="spacingAndGlyphs" stroke="#ffffff" stroke-width="0.35">млрд грн</text>
<text x="126.77" y="729.00" font-size="26.45" font-weight="bold" fill="#3f4045" textLength="133.17" lengthAdjust="spacingAndGlyphs" stroke="#f0f1f7" stroke-width="0.5">Топ-5 країн</text>
<text x="264.89" y="729.00" font-size="26.45" font-weight="normal" fill="#4c4d52" textLength="373.10" lengthAdjust="spacingAndGlyphs" stroke="#f0f1f7" stroke-width="0.2">за обсягами переказів в Україну</text>
<text x="1127.27" y="729.00" font-size="26.45" font-weight="bold" fill="#3f4045" textLength="132.66" lengthAdjust="spacingAndGlyphs" stroke="#f0f1f7" stroke-width="0.5">Топ-5 країн</text>
<text x="1264.68" y="729.00" font-size="26.45" font-weight="normal" fill="#4c4d52" textLength="375.70" lengthAdjust="spacingAndGlyphs" stroke="#f0f1f7" stroke-width="0.2">за обсягами переказів з України</text>
<line x1="86.3" y1="754" x2="86.3" y2="1117" stroke="#d0d2da" stroke-width="1"/>
<rect x="87" y="758.8" width="322.8" height="40.2" fill="#8fca63"/>
<text x="337.20" y="793.30" font-size="40.70" font-weight="normal" fill="#ffffff" textLength="42.27" lengthAdjust="spacingAndGlyphs" stroke="#8fca63" stroke-width="0.6">18</text>
<text x="381.19" y="793.30" font-size="31.86" font-weight="normal" fill="#ffffff" textLength="22.91" lengthAdjust="spacingAndGlyphs" stroke="#8fca63" stroke-width="0.6">%</text>
<rect x="87" y="820.2" width="297.5" height="39.8" fill="#8fca63"/>
<text x="309.59" y="854.50" font-size="40.70" font-weight="normal" fill="#ffffff" textLength="42.53" lengthAdjust="spacingAndGlyphs" stroke="#8fca63" stroke-width="0.6">14</text>
<text x="353.67" y="854.50" font-size="31.86" font-weight="normal" fill="#ffffff" textLength="23.34" lengthAdjust="spacingAndGlyphs" stroke="#8fca63" stroke-width="0.6">%</text>
<rect x="87" y="885.1" width="188.1" height="39.5" fill="#8fca63"/>
<text x="222.30" y="918.20" font-size="40.70" font-weight="normal" fill="#ffffff" textLength="21.52" lengthAdjust="spacingAndGlyphs" stroke="#8fca63" stroke-width="0.6">9</text>
<text x="244.96" y="918.20" font-size="31.86" font-weight="normal" fill="#ffffff" textLength="23.66" lengthAdjust="spacingAndGlyphs" stroke="#8fca63" stroke-width="0.6">%</text>
<rect x="87" y="947" width="168.4" height="39.7" fill="#8fca63"/>
<text x="204.01" y="980.80" font-size="40.70" font-weight="normal" fill="#ffffff" textLength="22.60" lengthAdjust="spacingAndGlyphs" stroke="#8fca63" stroke-width="0.6">7</text>
<text x="227.05" y="980.80" font-size="31.86" font-weight="normal" fill="#ffffff" textLength="23.98" lengthAdjust="spacingAndGlyphs" stroke="#8fca63" stroke-width="0.6">%</text>
<rect x="87" y="1008.8" width="168.4" height="41.7" fill="#8fca63"/>
<text x="204.01" y="1044.10" font-size="40.70" font-weight="normal" fill="#ffffff" textLength="22.60" lengthAdjust="spacingAndGlyphs" stroke="#8fca63" stroke-width="0.6">7</text>
<text x="227.05" y="1044.10" font-size="31.86" font-weight="normal" fill="#ffffff" textLength="23.98" lengthAdjust="spacingAndGlyphs" stroke="#8fca63" stroke-width="0.6">%</text>
<rect x="87" y="1072.5" width="490.0" height="40.0" fill="#8fca63"/>
<text x="504.45" y="1106.10" font-size="40.70" font-weight="normal" fill="#ffffff" textLength="42.84" lengthAdjust="spacingAndGlyphs" stroke="#8fca63" stroke-width="0.6">45</text>
<text x="549.08" y="1106.10" font-size="31.86" font-weight="normal" fill="#ffffff" textLength="23.23" lengthAdjust="spacingAndGlyphs" stroke="#8fca63" stroke-width="0.6">%</text>
<line x1="1666.5" y1="753" x2="1666.5" y2="1117" stroke="#d0d2da" stroke-width="1"/>
<rect x="1224.3" y="759" width="442.2" height="39.8" fill="#cc74b2"/>
<text x="1230.99" y="793.60" font-size="40.70" font-weight="normal" fill="#ffffff" textLength="36.59" lengthAdjust="spacingAndGlyphs" stroke="#cc74b2" stroke-width="0.3">31</text>
<text x="1274.67" y="793.60" font-size="31.86" font-weight="normal" fill="#ffffff" textLength="23.34" lengthAdjust="spacingAndGlyphs" stroke="#cc74b2" stroke-width="0.6">%</text>
<rect x="1523.5" y="821.1" width="143.0" height="39.9" fill="#cc74b2"/>
<text x="1531.62" y="855.90" font-size="40.70" font-weight="normal" fill="#ffffff" textLength="36.33" lengthAdjust="spacingAndGlyphs" stroke="#cc74b2" stroke-width="0.3">11</text>
<text x="1575.15" y="855.90" font-size="31.86" font-weight="normal" fill="#ffffff" textLength="23.87" lengthAdjust="spacingAndGlyphs" stroke="#cc74b2" stroke-width="0.6">%</text>
<rect x="1595" y="884.9" width="71.5" height="39.9" fill="#cc74b2"/>
<text x="1601.79" y="918.40" font-size="40.70" font-weight="normal" fill="#ffffff" textLength="21.59" lengthAdjust="spacingAndGlyphs" stroke="#cc74b2" stroke-width="0.3">6</text>
<text x="1624.37" y="918.40" font-size="31.86" font-weight="normal" fill="#ffffff" textLength="23.44" lengthAdjust="spacingAndGlyphs" stroke="#cc74b2" stroke-width="0.6">%</text>
<rect x="1595" y="947" width="71.5" height="39.8" fill="#cc74b2"/>
<text x="1601.79" y="980.20" font-size="40.70" font-weight="normal" fill="#ffffff" textLength="21.59" lengthAdjust="spacingAndGlyphs" stroke="#cc74b2" stroke-width="0.3">6</text>
<text x="1624.37" y="980.20" font-size="31.86" font-weight="normal" fill="#ffffff" textLength="23.44" lengthAdjust="spacingAndGlyphs" stroke="#cc74b2" stroke-width="0.6">%</text>
<rect x="1603.3" y="1010" width="63.2" height="39.7" fill="#cc74b2"/>
<text x="1611.09" y="1043.60" font-size="40.70" font-weight="normal" fill="#ffffff" textLength="20.84" lengthAdjust="spacingAndGlyphs" stroke="#cc74b2" stroke-width="0.3">5</text>
<text x="1632.47" y="1043.60" font-size="31.86" font-weight="normal" fill="#ffffff" textLength="23.34" lengthAdjust="spacingAndGlyphs" stroke="#cc74b2" stroke-width="0.6">%</text>
<rect x="1165.4" y="1072.5" width="501.1" height="40.2" fill="#cc74b2"/>
<text x="1174.20" y="1106.10" font-size="40.70" font-weight="normal" fill="#ffffff" textLength="36.16" lengthAdjust="spacingAndGlyphs" stroke="#cc74b2" stroke-width="0.3">41</text>
<text x="1218.17" y="1106.10" font-size="31.86" font-weight="normal" fill="#ffffff" textLength="23.55" lengthAdjust="spacingAndGlyphs" stroke="#cc74b2" stroke-width="0.6">%</text>
<rect x="616.1" y="753.20" width="72" height="3.94" fill="#d52a2f"/><rect x="616.1" y="757.09" width="72" height="3.94" fill="#f4f4f4"/><rect x="616.1" y="760.98" width="72" height="3.94" fill="#d52a2f"/><rect x="616.1" y="764.88" width="72" height="3.94" fill="#f4f4f4"/><rect x="616.1" y="768.77" width="72" height="3.94" fill="#d52a2f"/><rect x="616.1" y="772.66" width="72" height="3.94" fill="#f4f4f4"/><rect x="616.1" y="776.55" width="72" height="3.94" fill="#d52a2f"/><rect x="616.1" y="780.45" width="72" height="3.94" fill="#f4f4f4"/><rect x="616.1" y="784.34" width="72" height="3.94" fill="#d52a2f"/><rect x="616.1" y="788.23" width="72" height="3.94" fill="#f4f4f4"/><rect x="616.1" y="792.12" width="72" height="3.94" fill="#d52a2f"/><rect x="616.1" y="796.02" width="72" height="3.94" fill="#f4f4f4"/><rect x="616.1" y="799.91" width="72" height="3.94" fill="#d52a2f"/><rect x="616.1" y="753.2" width="32.40" height="27.25" fill="#6e95d6"/><circle cx="618.60" cy="755.70" r="0.9" fill="#ffffff"/><circle cx="624.10" cy="755.70" r="0.9" fill="#ffffff"/><circle cx="629.60" cy="755.70" r="0.9" fill="#ffffff"/><circle cx="635.10" cy="755.70" r="0.9" fill="#ffffff"/><circle cx="640.60" cy="755.70" r="0.9" fill="#ffffff"/><circle cx="646.10" cy="755.70" r="0.9" fill="#ffffff"/><circle cx="618.60" cy="761.80" r="0.9" fill="#ffffff"/><circle cx="624.10" cy="761.80" r="0.9" fill="#ffffff"/><circle cx="629.60" cy="761.80" r="0.9" fill="#ffffff"/><circle cx="635.10" cy="761.80" r="0.9" fill="#ffffff"/><circle cx="640.60" cy="761.80" r="0.9" fill="#ffffff"/><circle cx="646.10" cy="761.80" r="0.9" fill="#ffffff"/><circle cx="618.60" cy="767.90" r="0.9" fill="#ffffff"/><circle cx="624.10" cy="767.90" r="0.9" fill="#ffffff"/><circle cx="629.60" cy="767.90" r="0.9" fill="#ffffff"/><circle cx="635.10" cy="767.90" r="0.9" fill="#ffffff"/><circle cx="640.60" cy="767.90" r="0.9" fill="#ffffff"/><circle cx="646.10" cy="767.90" r="0.9" fill="#ffffff"/><circle cx="618.60" cy="774.00" r="0.9" fill="#ffffff"/><circle cx="624.10" cy="774.00" r="0.9" fill="#ffffff"/><circle cx="629.60" cy="774.00" r="0.9" fill="#ffffff"/><circle cx="635.10" cy="774.00" r="0.9" fill="#ffffff"/><circle cx="640.60" cy="774.00" r="0.9" fill="#ffffff"/><circle cx="646.10" cy="774.00" r="0.9" fill="#ffffff"/><circle cx="618.60" cy="780.10" r="0.9" fill="#ffffff"/><circle cx="624.10" cy="780.10" r="0.9" fill="#ffffff"/><circle cx="629.60" cy="780.10" r="0.9" fill="#ffffff"/><circle cx="635.10" cy="780.10" r="0.9" fill="#ffffff"/><circle cx="640.60" cy="780.10" r="0.9" fill="#ffffff"/><circle cx="646.10" cy="780.10" r="0.9" fill="#ffffff"/><path d="M616.1,753.2 L688.1,753.2 L688.1,770.40 C670.10,771.42 639.14,777.49 630.50,786.60 C623.30,793.68 619.70,798.74 617.54,803.8000000000001 L616.1,803.8000000000001 Z" fill="#ffffff" opacity="0.17"/><rect x="616.1" y="753.2" width="72" height="50.6" fill="none" stroke="#000" stroke-opacity="0.06" stroke-width="1"/>
<rect x="616.1" y="814" width="72" height="50.6" fill="#f0f0f0"/><rect x="616.1" y="819.57" width="72" height="7.08" fill="#4a86d2"/><rect x="616.1" y="851.95" width="72" height="7.08" fill="#3a78cc"/><polygon points="652.10,830.30 659.89,843.80 644.31,843.80" fill="none" stroke="#3a78cc" stroke-width="1.6"/><polygon points="652.10,848.30 644.31,834.80 659.89,834.80" fill="none" stroke="#3a78cc" stroke-width="1.6"/><path d="M616.1,814 L688.1,814 L688.1,831.20 C670.10,832.22 639.14,838.29 630.50,847.40 C623.30,854.48 619.70,859.54 617.54,864.6 L616.1,864.6 Z" fill="#ffffff" opacity="0.17"/><rect x="616.1" y="814" width="72" height="50.6" fill="none" stroke="#000" stroke-opacity="0.06" stroke-width="1"/>
<rect x="616.10" y="878.8" width="24.05" height="50.6" fill="#47ad49"/><rect x="640.10" y="878.8" width="24.05" height="50.6" fill="#eeeeee"/><rect x="664.10" y="878.8" width="24.05" height="50.6" fill="#dc2b2b"/><path d="M616.1,878.8 L688.1,878.8 L688.1,896.00 C670.10,897.02 639.14,903.09 630.50,912.20 C623.30,919.28 619.70,924.34 617.54,929.4 L616.1,929.4 Z" fill="#ffffff" opacity="0.17"/><rect x="616.1" y="878.8" width="72" height="50.6" fill="none" stroke="#000" stroke-opacity="0.06" stroke-width="1"/>
<rect x="616.1" y="941.30" width="72" height="25.35" fill="#ececec"/><rect x="616.1" y="966.60" width="72" height="25.35" fill="#d92a2a"/><path d="M616.1,941.3 L688.1,941.3 L688.1,958.50 C670.10,959.52 639.14,965.59 630.50,974.70 C623.30,981.78 619.70,986.84 617.54,991.9 L616.1,991.9 Z" fill="#ffffff" opacity="0.17"/><rect x="616.1" y="941.3" width="72" height="50.6" fill="none" stroke="#000" stroke-opacity="0.06" stroke-width="1"/>
<rect x="616.1" y="1004.40" width="72" height="16.92" fill="#eeeeee"/><rect x="616.1" y="1021.27" width="72" height="16.92" fill="#3d7ccd"/><rect x="616.1" y="1038.13" width="72" height="16.92" fill="#d92a2a"/><path d="M616.1,1004.4 L688.1,1004.4 L688.1,1021.60 C670.10,1022.62 639.14,1028.69 630.50,1037.80 C623.30,1044.88 619.70,1049.94 617.54,1055.0 L616.1,1055.0 Z" fill="#ffffff" opacity="0.17"/><rect x="616.1" y="1004.4" width="72" height="50.6" fill="none" stroke="#000" stroke-opacity="0.06" stroke-width="1"/>
<rect x="1066" y="753.20" width="72" height="16.92" fill="#eeeeee"/><rect x="1066" y="770.07" width="72" height="16.92" fill="#3d7ccd"/><rect x="1066" y="786.93" width="72" height="16.92" fill="#d92a2a"/><path d="M1066,753.2 L1138,753.2 L1138,770.40 C1120.00,771.42 1089.04,777.49 1080.40,786.60 C1073.20,793.68 1069.60,798.74 1067.44,803.8000000000001 L1066,803.8000000000001 Z" fill="#ffffff" opacity="0.17"/><rect x="1066" y="753.2" width="72" height="50.6" fill="none" stroke="#000" stroke-opacity="0.06" stroke-width="1"/>
<rect x="1066" y="815.6" width="72" height="50.6" fill="#f2f2f2"/><rect x="1096.60" y="815.6" width="10.80" height="50.6" fill="#dd2a2a"/><rect x="1066" y="835.84" width="72" height="10.12" fill="#dd2a2a"/><path d="M1077.8,826.7 H1085.8 M1081.8,822.7 V830.7" stroke="#d42a2a" stroke-width="1.6"/><path d="M1118.2,826.7 H1126.2 M1122.2,822.7 V830.7" stroke="#d42a2a" stroke-width="1.6"/><path d="M1077.8,855.1 H1085.8 M1081.8,851.1 V859.1" stroke="#d42a2a" stroke-width="1.6"/><path d="M1118.2,855.1 H1126.2 M1122.2,851.1 V859.1" stroke="#d42a2a" stroke-width="1.6"/><path d="M1066,815.6 L1138,815.6 L1138,832.80 C1120.00,833.82 1089.04,839.89 1080.40,849.00 C1073.20,856.08 1069.60,861.14 1067.44,866.2 L1066,866.2 Z" fill="#ffffff" opacity="0.17"/><rect x="1066" y="815.6" width="72" height="50.6" fill="none" stroke="#000" stroke-opacity="0.06" stroke-width="1"/>
<rect x="1066" y="878.00" width="72" height="16.92" fill="#7cc0ec"/><rect x="1066" y="894.87" width="72" height="16.92" fill="#db2d2d"/><rect x="1066" y="911.73" width="72" height="16.92" fill="#45b04a"/><circle cx="1099.8" cy="903.3" r="6" fill="#ffffff"/><circle cx="1101.4" cy="903.3" r="4.9" fill="#db2d2d"/><circle cx="1105.3" cy="903.3" r="2.6" fill="#ffffff"/><path d="M1066,878 L1138,878 L1138,895.20 C1120.00,896.22 1089.04,902.29 1080.40,911.40 C1073.20,918.48 1069.60,923.54 1067.44,928.6 L1066,928.6 Z" fill="#ffffff" opacity="0.17"/><rect x="1066" y="878" width="72" height="50.6" fill="none" stroke="#000" stroke-opacity="0.06" stroke-width="1"/>
<rect x="1066" y="942.2" width="72" height="50.6" fill="#d92a2a"/><polygon points="1077.00,949.20 1078.41,953.26 1082.71,953.35 1079.28,955.94 1080.53,960.05 1077.00,957.60 1073.47,960.05 1074.72,955.94 1071.29,953.35 1075.59,953.26" fill="#f5d33a"/><polygon points="1088.00,947.20 1088.47,948.55 1089.90,948.58 1088.76,949.45 1089.18,950.82 1088.00,950.00 1086.82,950.82 1087.24,949.45 1086.10,948.58 1087.53,948.55" fill="#f5d33a"/><polygon points="1092.00,952.20 1092.47,953.55 1093.90,953.58 1092.76,954.45 1093.18,955.82 1092.00,955.00 1090.82,955.82 1091.24,954.45 1090.10,953.58 1091.53,953.55" fill="#f5d33a"/><polygon points="1092.00,958.20 1092.47,959.55 1093.90,959.58 1092.76,960.45 1093.18,961.82 1092.00,961.00 1090.82,961.82 1091.24,960.45 1090.10,959.58 1091.53,959.55" fill="#f5d33a"/><polygon points="1088.00,963.20 1088.47,964.55 1089.90,964.58 1088.76,965.45 1089.18,966.82 1088.00,966.00 1086.82,966.82 1087.24,965.45 1086.10,964.58 1087.53,964.55" fill="#f5d33a"/><path d="M1066,942.2 L1138,942.2 L1138,959.40 C1120.00,960.42 1089.04,966.49 1080.40,975.60 C1073.20,982.68 1069.60,987.74 1067.44,992.8000000000001 L1066,992.8000000000001 Z" fill="#ffffff" opacity="0.17"/><rect x="1066" y="942.2" width="72" height="50.6" fill="none" stroke="#000" stroke-opacity="0.06" stroke-width="1"/>
<rect x="1066" y="1004.6" width="72" height="50.6" fill="#f0f0f0"/><rect x="1066" y="1004.6" width="72" height="16.70" fill="#7cc6e8"/><rect x="1066" y="1021.30" width="72" height="1.01" fill="#d83a3a"/><rect x="1066" y="1037.49" width="72" height="1.01" fill="#d83a3a"/><rect x="1066" y="1038.50" width="72" height="16.70" fill="#45b04a"/><circle cx="1075.0" cy="1012.9" r="5" fill="#ffffff"/><circle cx="1077.0" cy="1012.9" r="4.3" fill="#7cc6e8"/><circle cx="1084.0" cy="1008.1" r="0.7" fill="#ffffff"/><circle cx="1087.5" cy="1008.1" r="0.7" fill="#ffffff"/><circle cx="1091.0" cy="1008.1" r="0.7" fill="#ffffff"/><circle cx="1094.5" cy="1008.1" r="0.7" fill="#ffffff"/><circle cx="1084.0" cy="1012.3" r="0.7" fill="#ffffff"/><circle cx="1087.5" cy="1012.3" r="0.7" fill="#ffffff"/><circle cx="1091.0" cy="1012.3" r="0.7" fill="#ffffff"/><circle cx="1094.5" cy="1012.3" r="0.7" fill="#ffffff"/><circle cx="1084.0" cy="1016.5" r="0.7" fill="#ffffff"/><circle cx="1087.5" cy="1016.5" r="0.7" fill="#ffffff"/><circle cx="1091.0" cy="1016.5" r="0.7" fill="#ffffff"/><circle cx="1094.5" cy="1016.5" r="0.7" fill="#ffffff"/><path d="M1066,1004.6 L1138,1004.6 L1138,1021.80 C1120.00,1022.82 1089.04,1028.89 1080.40,1038.00 C1073.20,1045.08 1069.60,1050.14 1067.44,1055.2 L1066,1055.2 Z" fill="#ffffff" opacity="0.17"/><rect x="1066" y="1004.6" width="72" height="50.6" fill="none" stroke="#000" stroke-opacity="0.06" stroke-width="1"/>
<g fill="none" stroke="#434448" stroke-width="1.8"><circle cx="649.1" cy="1092.3" r="26.8"/><ellipse cx="649.1" cy="1092.3" rx="13.40" ry="26.8"/><line x1="649.1" y1="1065.5" x2="649.1" y2="1119.1"/><line x1="622.3000000000001" y1="1092.3" x2="675.9" y2="1092.3"/><path d="M628.20,1075.42 Q649.10,1086.94 670.00,1075.42"/><path d="M628.20,1109.18 Q649.10,1097.66 670.00,1109.18"/></g>
<g fill="none" stroke="#434448" stroke-width="1.8"><circle cx="1101.4" cy="1092.3" r="26.8"/><ellipse cx="1101.4" cy="1092.3" rx="13.40" ry="26.8"/><line x1="1101.4" y1="1065.5" x2="1101.4" y2="1119.1"/><line x1="1074.6000000000001" y1="1092.3" x2="1128.2" y2="1092.3"/><path d="M1080.50,1075.42 Q1101.40,1086.94 1122.30,1075.42"/><path d="M1080.50,1109.18 Q1101.40,1097.66 1122.30,1109.18"/></g>
<g fill="none" stroke="#8a98d2" stroke-width="1.6"><circle cx="876.7" cy="1037.1" r="26.9"/><ellipse cx="876.7" cy="1037.1" rx="13.45" ry="26.9"/><line x1="876.7" y1="1010.1999999999999" x2="876.7" y2="1064.0"/><line x1="849.8000000000001" y1="1037.1" x2="903.6" y2="1037.1"/><path d="M855.72,1020.15 Q876.70,1031.72 897.68,1020.15"/><path d="M855.72,1054.05 Q876.70,1042.48 897.68,1054.05"/></g>
<path d="M848.8,864.5 C848.8,864.3 848.8,864.0 849.0,863.9 C849.2,863.7 849.6,863.7 849.7,863.7 C849.9,863.7 849.7,864.0 850.0,863.9 C850.2,863.9 850.7,863.5 851.0,863.4 C851.3,863.3 851.5,863.6 851.6,863.4 C851.6,863.2 851.4,862.6 851.5,862.4 C851.5,862.2 851.8,862.2 852.0,862.2 C852.2,862.2 852.4,862.4 852.6,862.4 C852.8,862.4 853.2,862.1 853.4,862.1 C853.6,862.1 853.6,862.3 853.9,862.3 C854.1,862.2 854.6,862.0 854.9,861.9 C855.1,861.9 855.4,862.1 855.7,862.2 C855.9,862.2 855.9,862.4 856.3,862.3 C856.7,862.3 857.6,862.0 857.9,862.1 C858.2,862.2 858.0,862.6 858.2,862.7 C858.4,862.9 858.8,862.7 859.0,862.7 C859.2,862.8 858.9,862.9 859.4,863.0 C859.8,863.1 861.1,863.3 861.6,863.4 C862.1,863.5 862.0,863.6 862.2,863.8 C862.3,863.9 862.2,864.3 862.3,864.4 C862.5,864.4 862.8,864.0 863.0,863.9 C863.3,863.9 863.5,864.1 863.7,864.3 C863.9,864.5 863.9,865.1 864.0,865.1 C864.1,865.1 864.2,864.5 864.4,864.4 C864.6,864.2 865.2,864.2 865.5,864.1 C865.7,864.0 865.8,863.8 865.9,863.9 C866.1,863.9 866.2,864.4 866.4,864.5 C866.6,864.6 867.0,864.5 867.2,864.6 C867.5,864.7 867.7,865.3 867.9,865.3 C868.0,865.3 868.1,864.8 868.3,864.6 C868.6,864.4 868.9,864.2 869.1,864.2 C869.4,864.2 869.5,864.5 869.6,864.7 C869.7,864.8 869.8,865.2 869.9,865.3 C870.1,865.4 870.3,865.5 870.4,865.5 C870.5,865.4 870.5,865.2 870.7,865.1 C870.9,864.9 871.2,864.8 871.4,864.7 C871.7,864.7 871.8,865.0 872.0,865.0 C872.2,865.0 872.5,864.9 872.8,864.7 C873.1,864.5 873.3,864.1 873.5,863.8 C873.8,863.5 874.0,863.3 874.2,863.1 C874.5,862.8 874.5,862.5 874.7,862.3 C875.0,862.0 875.4,861.6 875.7,861.4 C876.0,861.2 876.4,861.1 876.7,861.1 C876.9,861.1 876.9,861.4 877.0,861.4 C877.1,861.3 877.0,860.9 877.1,860.8 C877.3,860.7 877.6,861.0 877.9,861.0 C878.3,861.0 878.7,860.9 879.1,860.9 C879.4,860.9 879.6,861.1 879.9,861.1 C880.1,861.0 880.4,860.7 880.5,860.5 C880.6,860.3 880.5,859.9 880.6,859.7 C880.7,859.5 880.7,859.4 880.8,859.4 C881.0,859.3 881.3,859.3 881.5,859.4 C881.7,859.4 881.7,859.8 882.0,859.8 C882.2,859.8 882.6,859.5 882.9,859.4 C883.2,859.2 883.5,858.9 883.7,858.8 C884.0,858.7 884.2,858.9 884.4,859.0 C884.5,859.0 884.4,859.2 884.6,859.2 C884.8,859.2 885.1,858.8 885.3,858.8 C885.6,858.8 885.8,858.8 886.0,859.0 C886.2,859.1 886.5,859.5 886.6,859.7 C886.8,859.9 886.9,860.0 886.9,860.2 C887.0,860.5 886.9,860.7 887.1,861.0 C887.3,861.2 887.7,861.5 887.9,861.8 C888.1,862.0 888.2,862.3 888.1,862.4 C888.1,862.6 887.9,862.6 887.7,862.7 C887.6,862.7 887.1,862.8 887.1,862.9 C887.1,863.0 887.4,863.2 887.5,863.4 C887.6,863.6 887.6,863.9 887.7,864.2 C887.7,864.5 887.8,864.9 887.8,865.1 C887.9,865.4 887.9,865.5 888.1,865.5 C888.2,865.5 888.6,865.2 888.9,865.2 C889.1,865.2 889.3,865.5 889.5,865.5 C889.7,865.4 889.9,865.1 890.2,865.1 C890.4,865.0 890.7,865.0 890.9,865.1 C891.1,865.2 891.1,865.5 891.3,865.6 C891.4,865.8 891.8,865.8 891.9,865.9 C892.1,866.1 892.1,866.4 892.2,866.7 C892.3,867.1 892.5,867.6 892.6,867.9 C892.6,868.2 892.3,868.2 892.4,868.5 C892.5,868.8 892.8,869.4 893.0,869.6 C893.3,869.7 893.7,869.3 894.0,869.2 C894.3,869.2 894.7,869.1 895.0,869.2 C895.3,869.3 895.5,869.7 895.8,869.9 C896.2,870.0 896.6,869.9 896.9,869.9 C897.2,869.9 897.4,870.0 897.6,869.9 C897.7,869.8 897.5,869.5 897.7,869.4 C897.9,869.3 898.4,869.4 898.7,869.2 C899.1,869.0 899.6,868.4 899.8,868.4 C900.0,868.3 900.0,868.5 900.1,868.7 C900.2,868.9 900.4,869.3 900.5,869.6 C900.7,869.8 900.9,869.9 901.1,870.1 C901.4,870.3 901.7,870.5 902.0,870.7 C902.3,870.9 902.8,871.4 903.0,871.3 C903.1,871.2 903.1,870.4 903.2,870.3 C903.3,870.2 903.3,870.6 903.6,870.6 C903.8,870.7 904.5,870.6 904.8,870.6 C905.0,870.7 904.9,871.0 905.0,871.1 C905.1,871.1 905.3,871.0 905.5,871.0 C905.8,871.1 906.2,871.4 906.4,871.4 C906.7,871.4 906.8,871.0 906.9,871.0 C907.0,871.0 907.0,871.4 907.2,871.5 C907.4,871.6 908.0,871.6 908.3,871.7 C908.5,871.8 908.5,872.1 908.7,872.2 C909.0,872.3 909.5,872.4 909.8,872.4 C910.0,872.3 910.2,871.9 910.4,871.8 C910.5,871.8 910.7,872.1 910.7,872.2 C910.8,872.4 910.5,872.5 910.4,872.7 C910.4,873.0 910.5,873.2 910.6,873.5 C910.7,873.8 910.9,874.1 910.9,874.3 C910.9,874.5 910.6,874.5 910.4,874.6 C910.3,874.8 910.4,875.2 910.2,875.3 C910.1,875.5 909.5,875.4 909.5,875.5 C909.4,875.7 909.7,876.1 909.9,876.2 C910.1,876.4 910.8,876.4 910.7,876.5 C910.7,876.6 910.0,876.5 909.8,876.8 C909.7,877.0 909.7,877.8 909.8,878.0 C909.9,878.3 910.2,878.0 910.4,878.3 C910.5,878.7 910.7,879.4 910.7,879.9 C910.8,880.3 910.5,880.8 910.5,881.2 C910.5,881.6 910.9,882.2 910.7,882.4 C910.6,882.6 910.0,882.4 909.5,882.4 C908.9,882.5 907.9,882.5 907.5,882.6 C907.1,882.7 907.2,882.9 907.1,883.1 C907.0,883.3 907.1,883.7 906.9,883.9 C906.7,884.2 905.9,884.2 905.7,884.4 C905.5,884.7 905.5,885.1 905.4,885.4 C905.4,885.7 905.2,886.0 905.2,886.3 C905.3,886.5 905.6,886.4 905.6,886.6 C905.6,886.9 905.3,887.5 905.2,887.7 C905.0,887.9 905.2,887.7 904.8,887.8 C904.4,887.9 903.4,887.9 903.0,888.1 C902.5,888.3 902.3,889.0 902.1,889.2 C901.8,889.3 901.8,889.0 901.5,889.2 C901.3,889.3 900.7,889.6 900.4,889.9 C900.2,890.2 900.0,891.0 899.9,891.1 C899.7,891.2 899.7,890.4 899.5,890.4 C899.3,890.3 898.9,890.5 898.6,890.6 C898.4,890.8 898.3,890.9 898.1,891.2 C897.9,891.4 897.5,892.1 897.4,892.2 C897.3,892.2 897.7,891.4 897.5,891.3 C897.4,891.1 896.9,891.2 896.6,891.3 C896.3,891.5 896.0,891.7 895.7,891.9 C895.4,892.1 895.2,892.4 895.0,892.6 C894.8,892.9 894.7,893.1 894.4,893.3 C894.2,893.6 893.8,893.6 893.5,893.9 C893.2,894.1 892.2,893.7 892.5,894.6 C892.8,895.6 894.9,898.8 895.4,899.6 C895.9,900.4 895.4,899.5 895.6,899.3 C895.9,899.2 896.7,899.1 897.0,898.9 C897.2,898.7 897.0,898.1 897.2,898.1 C897.3,898.0 897.5,898.4 897.7,898.4 C897.9,898.4 897.9,898.0 898.3,898.0 C898.6,897.9 899.7,898.0 900.1,898.1 C900.4,898.2 900.3,898.5 900.2,898.6 C900.2,898.8 899.7,898.8 899.6,899.0 C899.5,899.2 899.8,899.5 899.5,899.7 C899.3,899.9 898.6,900.1 898.3,900.3 C897.9,900.5 897.7,900.9 897.3,900.9 C897.0,900.9 896.2,900.4 895.9,900.4 C895.6,900.5 895.7,901.1 895.4,901.3 C895.2,901.6 894.9,901.7 894.6,901.9 C894.4,902.0 894.2,902.1 893.9,902.2 C893.6,902.3 893.2,902.3 892.8,902.5 C892.4,902.7 891.9,903.2 891.5,903.5 C891.1,903.9 890.7,904.4 890.4,904.6 C890.1,904.9 890.0,905.0 889.7,905.1 C889.4,905.2 889.2,905.2 888.8,905.2 C888.4,905.1 887.7,905.1 887.5,904.5 C887.4,903.9 888.0,902.3 888.0,901.7 C888.1,901.2 888.0,901.5 887.8,901.3 C887.7,901.2 887.4,900.9 887.2,900.8 C887.0,900.8 886.9,901.2 886.5,901.1 C886.2,900.9 885.5,900.1 885.1,899.9 C884.7,899.7 884.5,899.9 884.4,900.0 C884.2,900.1 884.2,900.4 884.0,900.3 C883.8,900.3 883.4,900.0 883.4,899.8 C883.3,899.7 883.3,899.6 883.5,899.4 C883.7,899.2 884.3,899.0 884.7,898.7 C885.1,898.3 885.7,897.7 886.0,897.4 C886.4,897.2 886.5,897.3 886.8,897.2 C887.0,897.0 887.1,896.8 887.4,896.7 C887.6,896.7 888.0,896.9 888.1,896.8 C888.3,896.8 888.3,896.5 888.3,896.3 C888.2,896.2 887.9,896.2 887.8,896.1 C887.8,895.9 887.8,895.5 887.8,895.3 C887.7,895.2 887.6,895.1 887.5,895.2 C887.4,895.2 887.4,895.8 887.3,895.8 C887.1,895.9 886.6,895.5 886.4,895.4 C886.2,895.3 886.1,895.4 886.0,895.3 C885.9,895.3 886.1,895.0 886.0,895.0 C885.9,895.0 885.6,895.3 885.3,895.4 C884.9,895.5 884.4,895.5 884.0,895.6 C883.7,895.7 883.5,895.9 883.2,895.9 C882.9,895.9 882.4,895.8 882.3,895.7 C882.1,895.6 882.3,895.4 882.2,895.3 C882.1,895.2 881.8,895.2 881.5,895.1 C881.3,895.0 881.0,894.8 880.8,894.7 C880.6,894.7 880.3,894.9 880.2,894.9 C880.1,894.9 880.1,894.9 880.3,894.7 C880.5,894.6 881.2,894.4 881.4,894.2 C881.5,894.1 881.3,894.0 881.2,893.9 C881.1,893.8 880.7,893.8 880.5,893.8 C880.3,893.8 880.0,894.0 879.9,893.9 C879.7,893.9 879.8,893.7 879.7,893.6 C879.6,893.5 879.4,893.4 879.2,893.3 C879.0,893.2 878.8,893.1 878.6,893.1 C878.4,893.0 878.2,893.0 878.0,893.0 C877.8,893.0 877.7,892.9 877.4,893.0 C877.2,893.1 876.7,893.4 876.4,893.7 C876.1,894.0 876.0,894.6 875.8,895.0 C875.6,895.4 875.4,896.0 875.2,896.3 C874.9,896.6 874.6,896.6 874.3,896.9 C873.9,897.1 873.6,897.4 873.2,897.8 C872.9,898.1 872.5,898.7 872.3,898.7 C872.1,898.8 872.1,898.2 872.0,898.2 C871.9,898.3 871.7,898.7 871.8,899.2 C871.8,899.7 872.3,900.8 872.3,901.2 C872.3,901.6 871.9,901.6 871.8,901.4 C871.6,901.3 871.6,900.7 871.3,900.5 C871.0,900.3 870.3,900.1 869.8,900.2 C869.3,900.4 868.7,901.4 868.1,901.3 C867.5,901.2 866.5,900.2 866.3,899.7 C866.2,899.2 866.9,899.0 867.3,898.5 C867.7,898.0 868.4,897.3 868.8,896.8 C869.2,896.3 869.5,896.0 869.6,895.5 C869.6,895.1 869.0,894.3 869.1,893.9 C869.2,893.6 869.9,893.5 870.2,893.6 C870.5,893.6 870.4,894.1 870.8,894.2 C871.1,894.3 871.9,894.0 872.3,894.0 C872.6,894.0 873.0,894.3 873.1,894.2 C873.3,894.2 873.3,894.0 873.2,893.6 C873.2,893.2 873.2,892.2 873.0,891.8 C872.8,891.5 872.0,891.6 871.8,891.3 C871.5,891.0 871.5,890.5 871.4,890.1 C871.4,889.7 871.5,889.3 871.3,889.0 C871.1,888.7 870.3,888.6 870.1,888.4 C869.8,888.2 869.7,888.2 869.7,887.9 C869.7,887.5 870.1,886.9 870.1,886.5 C870.1,886.1 870.0,885.8 869.7,885.6 C869.5,885.5 868.9,885.7 868.7,885.5 C868.5,885.3 868.6,884.6 868.4,884.4 C868.1,884.2 867.6,884.2 867.3,884.3 C867.1,884.3 867.2,884.7 867.0,884.6 C866.8,884.5 866.6,884.1 866.3,883.9 C866.0,883.7 865.4,883.5 865.1,883.3 C864.8,883.1 864.7,882.9 864.4,882.7 C864.2,882.6 863.9,882.4 863.6,882.4 C863.3,882.4 862.9,882.6 862.5,882.7 C862.1,882.8 861.5,883.0 861.2,883.1 C860.9,883.1 861.0,882.8 860.8,882.8 C860.7,882.8 860.3,882.9 860.1,883.1 C860.0,883.2 860.1,883.6 859.8,883.7 C859.5,883.9 858.9,883.9 858.6,884.1 C858.3,884.3 858.5,884.9 858.3,885.1 C858.0,885.3 857.5,885.3 856.9,885.4 C856.3,885.5 855.2,885.6 854.7,885.8 C854.1,886.0 853.9,886.3 853.6,886.5 C853.4,886.6 853.3,886.8 853.0,886.7 C852.8,886.5 852.5,886.0 852.3,885.8 C852.0,885.6 851.9,885.3 851.6,885.2 C851.2,885.1 850.7,885.5 850.2,885.5 C849.8,885.4 849.3,885.1 848.8,885.0 C848.4,884.8 847.8,884.9 847.5,884.8 C847.1,884.7 847.0,884.5 846.8,884.3 C846.6,884.2 846.4,884.1 846.3,884.1 C846.1,884.1 846.0,884.4 845.8,884.5 C845.6,884.6 845.2,884.7 845.1,884.6 C844.9,884.5 845.1,884.2 844.9,884.1 C844.7,884.0 844.3,884.1 844.0,883.9 C843.8,883.7 843.4,883.2 843.2,882.9 C843.0,882.6 843.0,882.2 842.8,882.0 C842.7,881.9 842.5,882.1 842.5,881.9 C842.5,881.6 842.7,881.0 842.8,880.7 C843.0,880.4 843.4,880.3 843.5,880.0 C843.7,879.7 843.7,879.1 843.9,878.8 C844.0,878.5 844.1,878.2 844.4,878.2 C844.7,878.1 845.4,878.7 845.5,878.6 C845.6,878.5 845.0,878.2 844.9,877.8 C844.8,877.3 844.7,876.3 844.7,875.8 C844.8,875.4 844.3,875.9 845.1,875.1 C845.8,874.3 848.3,871.5 849.1,870.8 C849.9,870.0 849.7,870.8 849.9,870.6 C850.1,870.5 850.2,870.1 850.3,869.9 C850.3,869.7 850.3,869.5 850.2,869.3 C850.1,869.1 849.9,868.9 849.9,868.8 C849.9,868.6 850.1,868.5 850.2,868.4 C850.3,868.4 850.6,868.6 850.6,868.5 C850.6,868.5 850.2,868.3 850.0,868.0 C849.8,867.8 849.6,867.2 849.4,866.8 C849.2,866.5 848.9,866.0 848.8,865.7 C848.8,865.4 849.0,865.3 849.0,865.1 C849.0,864.9 848.8,864.7 848.8,864.5 Z" fill="none" stroke="#7a80a8" stroke-width="1.4" stroke-linejoin="round"/>
<text x="758.84" y="768.00" font-size="30.09" font-weight="bold" fill="#00874b" textLength="236.39" lengthAdjust="spacingAndGlyphs" stroke="#f7f8fb" stroke-width="0.5">В Україні працює</text>
<text x="749.42" y="807.70" font-size="26.89" font-weight="bold" fill="#4e6c84" textLength="31.21" lengthAdjust="spacingAndGlyphs" stroke="#f7f8fb" stroke-width="0.4">37</text>
<text x="787.66" y="807.70" font-size="26.14" font-weight="normal" fill="#5b7285" textLength="224.38" lengthAdjust="spacingAndGlyphs" stroke="#f7f8fb" stroke-width="0.35">системи переказу</text>
<text x="748.86" y="839.90" font-size="26.70" font-weight="normal" fill="#5b7285" textLength="92.80" lengthAdjust="spacingAndGlyphs" stroke="#f7f8fb" stroke-width="0.35">коштів:</text>
<text x="749.93" y="938.00" font-size="26.89" font-weight="bold" fill="#4e6c84" textLength="30.93" lengthAdjust="spacingAndGlyphs" stroke="#f7f8fb" stroke-width="0.4">30</text>
<text x="788.07" y="938.00" font-size="26.14" font-weight="normal" fill="#4a4b50" textLength="231.09" lengthAdjust="spacingAndGlyphs" stroke="#f7f8fb" stroke-width="0.35">систем, створених</text>
<text x="749.79" y="970.40" font-size="28.03" font-weight="normal" fill="#4a4b50" textLength="165.23" lengthAdjust="spacingAndGlyphs" stroke="#f7f8fb" stroke-width="0.35">резидентами</text>
<text x="750.46" y="1087.10" font-size="25.58" font-weight="bold" fill="#4e6c84" textLength="14.77" lengthAdjust="spacingAndGlyphs" stroke="#f7f8fb" stroke-width="0.4">7</text>
<text x="772.68" y="1087.10" font-size="26.14" font-weight="normal" fill="#4a4b50" textLength="229.78" lengthAdjust="spacingAndGlyphs" stroke="#f7f8fb" stroke-width="0.35">систем, створених</text>
<text x="749.56" y="1119.60" font-size="28.03" font-weight="normal" fill="#4a4b50" textLength="194.60" lengthAdjust="spacingAndGlyphs" stroke="#f7f8fb" stroke-width="0.35">нерезидентами</text>
<text x="79.17" y="1168.30" font-size="26.89" font-weight="normal" fill="#505257" textLength="1578.34" lengthAdjust="spacingAndGlyphs" stroke="#d7dcee" stroke-width="0.15">Довідково: упродовж 9 місяців 2019 року на території України надавали послуги 37 системи переказу коштів, з яких 30 систем, створені</text>
<text x="77.80" y="1197.70" font-size="26.89" font-weight="normal" fill="#505257" textLength="1253.30" lengthAdjust="spacingAndGlyphs" stroke="#d7dcee" stroke-width="0.15">резидентами, та 7 систем, створені нерезидентами (4 системи з США, по 1 - з Грузії, Канади, Азербайджану).</text>
</svg></body></html>
